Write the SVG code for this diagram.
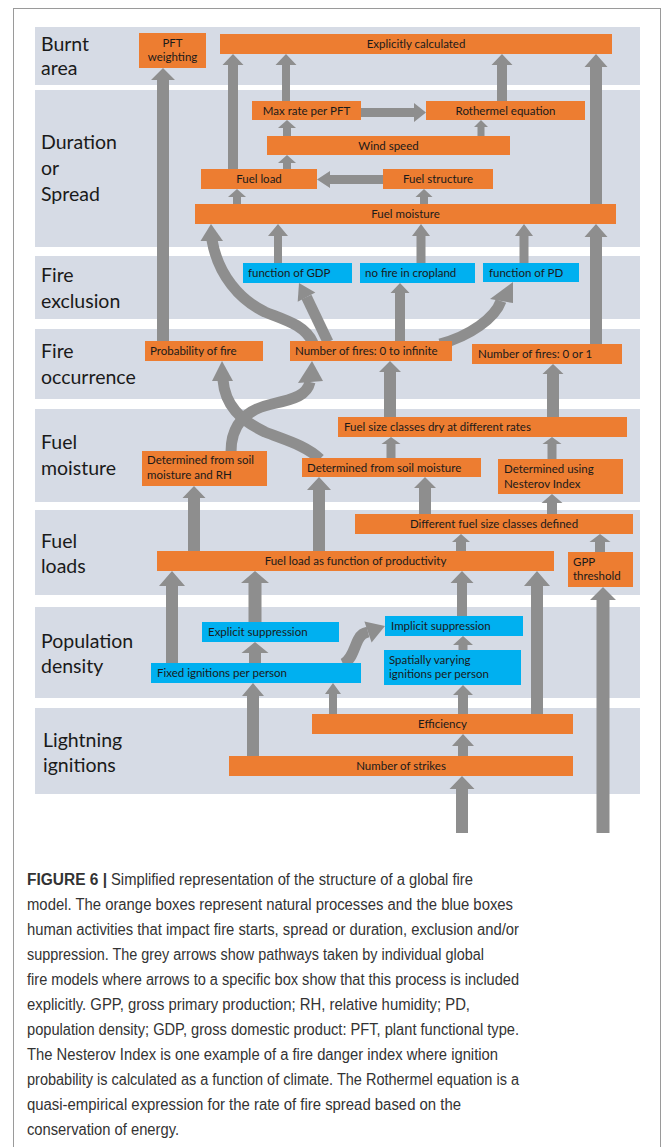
<svg xmlns="http://www.w3.org/2000/svg" width="663" height="1147" viewBox="0 0 663 1147">
<style>
.band{fill:#d6dbe5}
.o{fill:#ed7d31}
.b{fill:#00b0f0}
.a{fill:#8e8e8e}
.c{fill:none;stroke:#8e8e8e;stroke-width:11}
.lbl{font-family:Lato,"Liberation Sans",sans-serif;font-size:19.5px;fill:#1a1a1a}
.t{font-family:Lato,"Liberation Sans",sans-serif;font-size:11.5px;fill:#1a1a1a}
.m{text-anchor:middle}
.cap{font-family:"Liberation Sans",Arial,sans-serif;font-size:16px;fill:#333}
</style>
<rect x="0" y="0" width="663" height="1147" fill="#fff"/>
<rect x="13.5" y="8.5" width="647" height="1150" fill="none" stroke="#9a9a9a" stroke-width="1"/>
<g id="bands">
<rect class="band" x="35" y="27" width="605" height="58"/>
<rect class="band" x="35" y="90" width="605" height="157"/>
<rect class="band" x="35" y="256" width="605" height="63"/>
<rect class="band" x="35" y="329" width="605" height="70"/>
<rect class="band" x="35" y="409" width="605" height="93"/>
<rect class="band" x="35" y="510" width="605" height="85"/>
<rect class="band" x="35" y="607" width="605" height="91"/>
<rect class="band" x="35" y="708" width="605" height="86"/>
</g>
<g id="band-labels">
<text class="lbl" x="41" y="51">Burnt</text><text class="lbl" x="41" y="75">area</text>
<text class="lbl" x="41" y="149">Duration</text><text class="lbl" x="41" y="175">or</text><text class="lbl" x="41" y="201">Spread</text>
<text class="lbl" x="41" y="282">Fire</text><text class="lbl" x="41" y="308">exclusion</text>
<text class="lbl" x="41" y="358">Fire</text><text class="lbl" x="41" y="384">occurrence</text>
<text class="lbl" x="41" y="449">Fuel</text><text class="lbl" x="41" y="475">moisture</text>
<text class="lbl" x="41" y="548">Fuel</text><text class="lbl" x="41" y="573">loads</text>
<text class="lbl" x="41" y="648">Population</text><text class="lbl" x="41" y="673">density</text>
<text class="lbl" x="43" y="747">Lightning</text><text class="lbl" x="43" y="772">ignitions</text>
</g>
<g id="connectors">
<polygon class="a" points="157,341 157,80 151,80 163,68 175,80 169,80 169,341"/>
<polygon class="a" points="228,169 228,65 222.5,65 233,54 243.5,65 238,65 238,169"/>
<polygon class="a" points="282,101 282,65 275.5,65 286,54 296.5,65 290,65 290,101"/>
<polygon class="a" points="497,101 497,65 491.5,65 502,54 512.5,65 507,65 507,101"/>
<polygon class="a" points="590,204 590,67 584.5,67 596,54 607.5,67 602,67 602,204"/>
<polygon class="a" points="283,136 283,128 278,128 287,120 296,128 291,128 291,136"/>
<polygon class="a" points="477.5,136 477.5,127 474,127 481,120 488,127 484.5,127 484.5,136"/>
<polygon class="a" points="283,169 283,163 278,163 287,155 296,163 291,163 291,169"/>
<polygon class="a" points="233,204 233,197 228,197 237,189 246,197 241,197 241,204"/>
<polygon class="a" points="420,204 420,197 415.5,197 424,189 432.5,197 428,197 428,204"/>
<polygon class="a" points="274,263 274,236 268,236 278,224 288,236 282,236 282,263"/>
<polygon class="a" points="416.5,263 416.5,236 412,236 421,224 430,236 425.5,236 425.5,263"/>
<polygon class="a" points="519.5,263 519.5,236 515,236 524,224 533,236 528.5,236 528.5,263"/>
<polygon class="a" points="590,344 590,237 584.5,237 596,224 607.5,237 602,237 602,344"/>
<polygon class="a" points="395,341 395,293 390.5,293 400,283 409.5,293 405,293 405,341"/>
<polygon class="a" points="384,417 384,372 379,372 390,361 401,372 396,372 396,417"/>
<polygon class="a" points="547,417 547,374 542.5,374 553,364 563.5,374 559,374 559,417"/>
<polygon class="a" points="386.5,458 386.5,444 381.5,444 391,437 400.5,444 395.5,444 395.5,458"/>
<polygon class="a" points="547.5,459 547.5,444 542.5,444 552,437 561.5,444 556.5,444 556.5,459"/>
<polygon class="a" points="188,551 188,498 182.5,498 194,486 205.5,498 200,498 200,551"/>
<polygon class="a" points="313,551 313,490 307,490 319,477 331,490 325,490 325,551"/>
<polygon class="a" points="547,514 547,503 541.5,503 552,494 562.5,503 557,503 557,514"/>
<polygon class="a" points="419,514 419,488 414,488 425,477 436,488 431,488 431,514"/>
<polygon class="a" points="456,551 456,542 452,542 461,534 470,542 466,542 466,551"/>
<polygon class="a" points="595,552 595,542 589.5,542 600,534 610.5,542 605,542 605,552"/>
<polygon class="a" points="166,663 166,586 159,586 172,571 185,586 178,586 178,663"/>
<polygon class="a" points="248.5,622 248.5,583 241,583 255,571 269,583 261.5,583 261.5,622"/>
<polygon class="a" points="457,616 457,583 450.5,583 462,571 473.5,583 467,583 467,616"/>
<polygon class="a" points="531,714 531,586 524,586 537,571 550,586 543,586 543,714"/>
<polygon class="a" points="596.5,833 596.5,600 590,600 603,587 616,600 609.5,600 609.5,833"/>
<polygon class="a" points="249,663 249,653 241.5,653 255,642 268.5,653 261,653 261,663"/>
<polygon class="a" points="458.5,650 458.5,645 453,645 463,636 473,645 467.5,645 467.5,650"/>
<polygon class="a" points="247,756 247,696 242,696 253,683 264,696 259,696 259,756"/>
<polygon class="a" points="329,714 329,694 325,694 333,683 341,694 337,694 337,714"/>
<polygon class="a" points="458,714 458,695 453,695 463,685 473,695 468,695 468,714"/>
<polygon class="a" points="458,756 458,746 452,746 463,734 474,746 468,746 468,756"/>
<polygon class="a" points="456,833 456,789 449.5,789 462,776 474.5,789 468,789 468,833"/>
<polygon class="a" points="361,108 414,108 414,103 426,112.5 414,122 414,117 361,117"/>
<polygon class="a" points="383,175 330,175 330,171 317,179.5 330,188 330,184 383,184"/>
<line class="c" x1="328" y1="342" x2="306.5" y2="297" stroke-width="10"/>
<polygon class="a" points="315.3,292.4 299,283 297.7,301.8"/>
<path class="c" d="M 313 343 C 305 325, 285 320, 265 312 C 240 300, 218 275, 212 240"/>
<polygon class="a" points="200.5,241 211,224 223,241"/>
<path class="c" d="M 440 344 C 470 336, 495 318, 501 301"/>
<polygon class="a" points="490,299 513,282 513,303"/>
<path class="c" d="M 320 459 C 305 445, 285 440, 265 432 C 240 420, 225 405, 223 380"/>
<polygon class="a" points="212,381 222,361 233,381"/>
<path class="c" d="M 231 452 C 231 425, 245 410, 272 404 C 295 399, 307 395, 310 382"/>
<polygon class="a" points="298,383 312,361 323,381"/>
<path class="c" d="M 343 664 C 352 660, 354 648, 358 640 C 361 634, 364 633, 368 632" stroke-width="10"/>
<polygon class="a" points="364.4,621.6 385,626 371.6,642.4"/>
</g>
<g id="n-pft"><rect class="o" x="139" y="33" width="67" height="35"/><text class="t m" x="172.5" y="47">PFT</text><text class="t m" x="172.5" y="60.5">weighting</text></g>
<g id="n-explicit"><rect class="o" x="220" y="34" width="392" height="20"/><text class="t m" x="416" y="48">Explicitly calculated</text></g>
<g id="n-maxrate"><rect class="o" x="252" y="101" width="109" height="19"/><text class="t m" x="306.5" y="114.5">Max rate per PFT</text></g>
<g id="n-rothermel"><rect class="o" x="426" y="101" width="159" height="19"/><text class="t m" x="505.5" y="114.5">Rothermel equation</text></g>
<g id="n-wind"><rect class="o" x="267" y="136" width="243" height="19"/><text class="t m" x="388.5" y="149.5">Wind speed</text></g>
<g id="n-fuelload"><rect class="o" x="201" y="169" width="116" height="20"/><text class="t m" x="259" y="183">Fuel load</text></g>
<g id="n-fuelstructure"><rect class="o" x="383" y="169" width="110" height="20"/><text class="t m" x="438" y="183">Fuel structure</text></g>
<g id="n-fuelmoisture"><rect class="o" x="195" y="204" width="421" height="20"/><text class="t m" x="405.5" y="218">Fuel moisture</text></g>
<g id="n-gdp"><rect class="b" x="243" y="263" width="109" height="20"/><text class="t" x="248" y="277">function of GDP</text></g>
<g id="n-cropland"><rect class="b" x="360" y="263" width="115" height="20"/><text class="t" x="365" y="277">no fire in cropland</text></g>
<g id="n-pd"><rect class="b" x="483" y="263" width="96" height="19"/><text class="t" x="489" y="277">function of PD</text></g>
<g id="n-prob"><rect class="o" x="145" y="341" width="118" height="20"/><text class="t" x="150" y="355">Probability of fire</text></g>
<g id="n-nfinf"><rect class="o" x="290" y="341" width="162" height="20"/><text class="t" x="295" y="355">Number of fires: 0 to infinite</text></g>
<g id="n-nf01"><rect class="o" x="472" y="344" width="150" height="20"/><text class="t" x="478" y="358">Number of fires: 0 or 1</text></g>
<g id="n-fsdry"><rect class="o" x="338" y="417" width="289" height="20"/><text class="t" x="344" y="431">Fuel size classes dry at different rates</text></g>
<g id="n-soilrh"><rect class="o" x="142" y="451" width="125" height="35"/><text class="t" x="147" y="464">Determined from soil</text><text class="t" x="147" y="478.5">moisture and RH</text></g>
<g id="n-soil"><rect class="o" x="302" y="458" width="179" height="19"/><text class="t" x="307" y="471.5">Determined from soil moisture</text></g>
<g id="n-nesterov"><rect class="o" x="498" y="459" width="125" height="35"/><text class="t" x="504" y="473">Determined using</text><text class="t" x="504" y="487.5">Nesterov Index</text></g>
<g id="n-fsdef"><rect class="o" x="355" y="514" width="278" height="20"/><text class="t m" x="494" y="528">Different fuel size classes defined</text></g>
<g id="n-fuelprod"><rect class="o" x="157" y="551" width="397" height="20"/><text class="t m" x="355.5" y="565">Fuel load as function of productivity</text></g>
<g id="n-gpp"><rect class="o" x="568" y="552" width="65" height="35"/><text class="t" x="573" y="565.5">GPP</text><text class="t" x="573" y="580">threshold</text></g>
<g id="n-expsupp"><rect class="b" x="202" y="622" width="137" height="20"/><text class="t" x="208" y="636">Explicit suppression</text></g>
<g id="n-fixed"><rect class="b" x="151" y="663" width="210" height="20"/><text class="t" x="157" y="677">Fixed ignitions per person</text></g>
<g id="n-impsupp"><rect class="b" x="385" y="616" width="138" height="20"/><text class="t" x="391" y="630">Implicit suppression</text></g>
<g id="n-spatial"><rect class="b" x="384" y="650" width="137" height="35"/><text class="t" x="389" y="663.5">Spatially varying</text><text class="t" x="389" y="678">ignitions per person</text></g>
<g id="n-efficiency"><rect class="o" x="312" y="714" width="261" height="20"/><text class="t m" x="442.5" y="728">Efficiency</text></g>
<g id="n-strikes"><rect class="o" x="229" y="756" width="344" height="20"/><text class="t m" x="401" y="770">Number of strikes</text></g>
<g id="caption">
<text class="cap" x="27" y="885" font-weight="bold" fill="#222" textLength="80" lengthAdjust="spacingAndGlyphs">FIGURE 6 |</text>
<text class="cap" x="111" y="885" textLength="362" lengthAdjust="spacingAndGlyphs">Simplified representation of the structure of a global fire</text>
<text class="cap" x="27" y="910" textLength="486" lengthAdjust="spacingAndGlyphs">model. The orange boxes represent natural processes and the blue boxes</text>
<text class="cap" x="27" y="935" textLength="492" lengthAdjust="spacingAndGlyphs">human activities that impact fire starts, spread or duration, exclusion and/or</text>
<text class="cap" x="27" y="960" textLength="457" lengthAdjust="spacingAndGlyphs">suppression. The grey arrows show pathways taken by individual global</text>
<text class="cap" x="27" y="985" textLength="492" lengthAdjust="spacingAndGlyphs">fire models where arrows to a specific box show that this process is included</text>
<text class="cap" x="27" y="1010" textLength="443" lengthAdjust="spacingAndGlyphs">explicitly. GPP, gross primary production; RH, relative humidity; PD,</text>
<text class="cap" x="27" y="1035" textLength="492" lengthAdjust="spacingAndGlyphs">population density; GDP, gross domestic product: PFT, plant functional type.</text>
<text class="cap" x="27" y="1060" textLength="471" lengthAdjust="spacingAndGlyphs">The Nesterov Index is one example of a fire danger index where ignition</text>
<text class="cap" x="27" y="1085" textLength="492" lengthAdjust="spacingAndGlyphs">probability is calculated as a function of climate. The Rothermel equation is a</text>
<text class="cap" x="27" y="1110" textLength="434" lengthAdjust="spacingAndGlyphs">quasi-empirical expression for the rate of fire spread based on the</text>
<text class="cap" x="27" y="1135" textLength="152" lengthAdjust="spacingAndGlyphs">conservation of energy.</text>
</g>
</svg>
